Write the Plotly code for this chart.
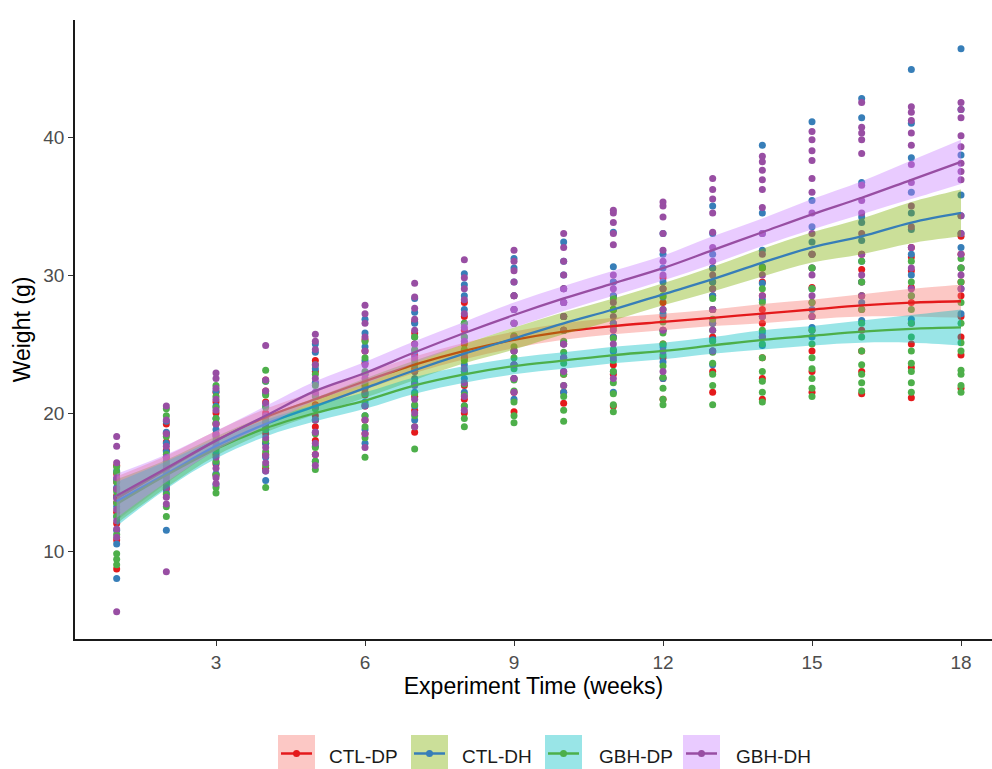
import plotly.graph_objects as go

# ---------------- data ----------------
weeks = list(range(1, 19))
groups = ["CTL-DP", "CTL-DH", "GBH-DP", "GBH-DH"]
point_colors = ["#E41A1C", "#377EB8", "#4DAF4A", "#984EA3"]
ribbon_colors = ["rgba(248,118,109,0.4)", "rgba(124,174,0,0.4)",
                 "rgba(0,191,196,0.4)", "rgba(199,124,255,0.4)"]
x_ticks = [3, 6, 9, 12, 15, 18]
y_ticks = [10, 20, 30, 40]

# individual weights (g), one list per week (weeks 1..18)
ctl_dp_weights = [
    [8.7, 10.8, 12.0, 12.8, 13.5, 14.0, 14.5, 15.0, 15.6, 16.2],
    [14.5, 15.0, 15.6, 16.2, 16.8, 17.3, 17.9, 18.5, 19.2],
    [15.5, 16.3, 17.0, 17.8, 18.5, 19.2, 20.0, 20.8, 21.5],
    [16.0, 17.0, 17.8, 18.5, 19.3, 20.0, 20.8, 21.6, 22.4],
    [17.0, 18.0, 19.0, 19.8, 20.6, 21.4, 22.2, 23.0, 23.8],
    [18.5, 19.5, 20.5, 21.3, 22.0, 22.8, 23.6, 24.5, 25.3],
    [18.6, 20.2, 21.2, 22.2, 23.2, 24.2, 25.0, 25.8, 26.6],
    [20.0, 21.0, 22.0, 23.0, 24.0, 25.0, 26.0, 27.0, 28.0],
    [20.1, 21.5, 22.5, 23.5, 24.5, 25.5, 26.5, 27.5, 28.5],
    [20.7, 21.5, 22.8, 24.0, 25.0, 26.0, 27.0, 28.0, 29.0],
    [20.5, 22.8, 23.5, 24.5, 25.5, 26.5, 27.5, 28.5, 29.5],
    [21.0, 22.5, 24.0, 25.0, 26.0, 27.0, 28.0, 29.0, 29.8],
    [21.5, 23.0, 24.5, 25.5, 26.5, 27.5, 28.5, 29.5, 30.5],
    [21.0, 22.5, 24.0, 25.5, 26.5, 27.5, 28.5, 29.5, 30.5],
    [21.5, 23.0, 24.5, 26.0, 27.0, 28.0, 29.1, 30.5, 31.5],
    [21.4, 23.0, 24.5, 26.0, 27.5, 28.5, 29.5, 30.4, 31.5],
    [21.1, 23.3, 25.0, 26.5, 28.0, 29.1, 30.3, 31.3, 32.0],
    [21.8, 24.2, 25.5, 27.0, 28.5, 29.5, 30.5, 31.5, 32.8],
]
ctl_dh_weights = [
    [8.0, 10.5, 11.5, 12.5, 13.2, 13.9, 14.6, 15.2, 15.8],
    [11.5, 14.2, 15.0, 15.8, 16.5, 17.2, 17.8, 18.6, 19.4],
    [14.8, 15.6, 16.4, 17.2, 18.0, 18.8, 19.6, 20.5, 21.6],
    [15.1, 15.8, 16.8, 17.8, 18.8, 19.7, 20.5, 21.4, 22.3],
    [16.5, 17.6, 18.6, 19.5, 20.4, 21.3, 22.2, 23.2, 24.4, 25.0],
    [17.8, 18.8, 19.8, 20.8, 21.8, 22.8, 23.8, 24.8, 25.8, 26.8],
    [19.5, 20.5, 21.5, 22.5, 23.5, 24.5, 25.5, 26.5, 27.3, 28.3],
    [20.5, 21.5, 22.5, 23.5, 24.5, 25.5, 26.5, 27.5, 28.5, 29.3, 30.1],
    [21.0, 22.5, 23.5, 24.5, 25.5, 26.5, 27.5, 28.5, 29.5, 30.5, 31.2],
    [21.5, 23.0, 24.0, 25.0, 26.0, 27.0, 28.0, 29.0, 30.0, 31.0, 32.4],
    [21.5, 23.0, 24.5, 25.5, 26.5, 27.5, 28.5, 29.5, 30.6, 33.1],
    [22.5, 23.7, 24.8, 26.0, 27.2, 28.4, 29.5, 30.5, 31.5, 33.0],
    [23.5, 24.5, 25.3, 26.5, 27.5, 28.5, 29.5, 30.5, 31.5, 33.0, 35.0],
    [24.9, 25.8, 27.0, 28.2, 29.4, 30.6, 31.8, 33.0, 34.5, 39.4],
    [25.5, 26.2, 27.5, 29.0, 30.5, 31.5, 32.4, 33.5, 35.4, 41.1],
    [26.7, 28.0, 29.5, 31.0, 32.5, 33.8, 34.2, 36.7, 41.4, 42.8],
    [26.8, 28.5, 30.0, 31.5, 33.3, 34.5, 36.0, 38.5, 41.0, 44.9],
    [27.2, 29.0, 30.5, 32.0, 33.0, 34.3, 35.8, 38.7, 42.0, 46.4],
]
gbh_dp_weights = [
    [9.0, 9.4, 9.8, 11.2, 12.5, 13.5, 14.3, 15.0, 15.7, 16.1],
    [12.5, 13.2, 14.1, 14.8, 15.5, 16.3, 17.0, 18.3, 19.8, 20.3],
    [14.2, 14.6, 15.5, 16.5, 17.4, 18.3, 19.3, 19.6, 20.4, 21.2, 22.0],
    [14.6, 16.2, 17.2, 18.0, 18.8, 19.5, 20.4, 21.3, 22.3, 23.1],
    [15.9, 16.5, 17.5, 18.5, 19.5, 20.3, 21.2, 22.0, 22.8, 23.5],
    [16.8, 18.2, 19.0, 19.8, 20.6, 21.4, 22.2, 23.0, 24.0, 25.2],
    [17.4, 19.0, 19.8, 20.6, 21.4, 22.2, 23.0, 23.8, 24.6, 25.5],
    [19.0, 19.6, 20.5, 21.3, 22.1, 23.0, 23.8, 24.6, 25.5, 26.5],
    [19.3, 19.8, 20.8, 21.6, 22.4, 23.2, 24.0, 24.8, 25.6, 26.5],
    [19.4, 20.2, 21.2, 22.0, 22.8, 23.6, 24.4, 25.2, 26.0, 27.0],
    [20.1, 20.6, 21.4, 22.2, 23.0, 23.8, 24.6, 25.4, 26.2, 27.5, 28.3],
    [20.6, 21.0, 21.8, 22.6, 23.4, 24.2, 25.0, 25.8, 26.6, 27.5, 28.5],
    [20.6, 22.0, 22.8, 23.6, 24.4, 25.2, 26.0, 26.8, 27.5, 28.3, 29.0],
    [20.8, 21.5, 22.3, 23.0, 24.0, 25.0, 26.0, 27.0, 28.0, 29.0, 30.5],
    [21.2, 21.8, 22.5, 23.2, 24.0, 25.0, 26.0, 27.0, 28.0, 29.0, 30.5],
    [21.6, 22.2, 22.8, 23.5, 24.5, 25.5, 26.5, 27.5, 28.5, 29.5, 31.0],
    [21.5, 22.2, 23.0, 23.6, 24.5, 25.5, 26.5, 27.5, 28.5, 29.5, 31.0],
    [21.5, 22.0, 22.8, 23.1, 24.5, 25.1, 26.5, 28.0, 29.5, 30.5, 31.2],
]
gbh_dh_weights = [
    [5.6, 11.0, 11.6, 12.2, 13.0, 13.8, 14.5, 15.3, 16.4, 17.6, 18.3],
    [8.5, 13.4, 13.9, 14.6, 15.3, 16.0, 16.8, 17.6, 18.5, 19.5, 20.5],
    [14.9, 15.3, 16.0, 16.8, 17.6, 18.4, 19.2, 20.2, 21.0, 21.8, 22.5, 22.9],
    [15.8, 16.4, 16.9, 17.5, 18.2, 19.0, 19.8, 20.7, 21.6, 22.4, 24.9],
    [16.2, 17.0, 17.8, 18.6, 19.5, 20.5, 21.5, 22.5, 23.5, 24.6, 25.2, 25.7],
    [17.5, 18.5, 19.5, 20.5, 21.5, 22.5, 23.5, 24.5, 25.5, 26.5, 27.2, 27.8],
    [19.0, 20.0, 21.0, 22.0, 23.0, 24.0, 25.0, 26.0, 26.8, 27.6, 28.4, 29.4],
    [20.2, 21.2, 22.2, 23.2, 24.2, 25.2, 26.2, 27.2, 28.2, 29.0, 29.8, 31.1],
    [21.5, 22.5, 23.5, 24.5, 25.5, 26.5, 27.5, 28.5, 29.5, 30.3, 31.0, 31.8],
    [22.0, 23.0, 24.0, 25.0, 26.0, 27.0, 28.0, 29.0, 30.0, 31.0, 32.0, 33.0],
    [22.5, 24.0, 25.0, 26.0, 27.0, 28.0, 29.0, 30.0, 32.2, 33.0, 33.8, 34.5, 34.7],
    [23.0, 24.5, 26.0, 27.5, 29.0, 30.0, 31.0, 31.8, 33.0, 34.2, 35.0, 35.3],
    [24.5, 26.0, 27.5, 29.0, 30.0, 31.0, 32.0, 33.1, 34.5, 35.5, 36.2, 37.0],
    [25.5, 27.0, 28.5, 30.0, 31.5, 33.0, 34.9, 36.2, 36.9, 37.6, 38.2, 38.6],
    [27.0, 28.5, 30.0, 31.5, 33.0, 34.5, 36.0, 37.0, 38.3, 39.0, 39.8, 40.4],
    [28.5, 30.0, 31.5, 33.0, 34.5, 35.4, 36.5, 38.8, 39.8, 40.3, 40.7, 42.5],
    [29.0, 30.5, 32.0, 33.5, 35.0, 36.7, 38.0, 39.4, 40.3, 41.2, 41.8, 42.2],
    [29.0, 30.0, 31.5, 33.0, 34.3, 36.9, 37.5, 38.1, 39.3, 40.1, 41.4, 42.0, 42.5],
]

# smoothed fits and confidence half-widths at each week
ctl_dp_fit = [13.8, 15.9, 18.0, 19.7, 21.0, 22.3, 23.5, 24.5, 25.3, 25.9, 26.3, 26.6, 26.9, 27.2, 27.5, 27.8, 28.0, 28.1]
ctl_dh_fit = [13.6, 15.6, 17.6, 19.2, 20.5, 21.8, 23.1, 24.3, 25.4, 26.5, 27.5, 28.6, 29.7, 30.9, 32.0, 32.8, 33.8, 34.5]
gbh_dp_fit = [13.4, 15.5, 17.4, 18.9, 20.0, 20.9, 22.0, 22.8, 23.4, 23.8, 24.2, 24.5, 24.9, 25.3, 25.6, 25.9, 26.1, 26.2]
gbh_dh_fit = [14.0, 16.0, 18.0, 19.8, 21.6, 22.9, 24.4, 25.8, 27.1, 28.3, 29.4, 30.5, 31.8, 33.1, 34.4, 35.6, 36.9, 38.2]

ctl_dp_band = [1.6, 1.0, 0.7, 0.6, 0.6, 0.6, 0.6, 0.6, 0.6, 0.6, 0.6, 0.6, 0.6, 0.7, 0.7, 0.8, 1.0, 1.2]
ctl_dh_band = [1.6, 1.0, 0.7, 0.6, 0.6, 0.7, 0.7, 0.7, 0.8, 0.8, 0.8, 0.8, 0.9, 1.0, 1.1, 1.3, 1.5, 1.7]
gbh_dp_band = [1.6, 1.0, 0.7, 0.6, 0.6, 0.6, 0.6, 0.6, 0.6, 0.6, 0.6, 0.6, 0.6, 0.7, 0.7, 0.8, 1.0, 1.3]
gbh_dh_band = [1.6, 1.0, 0.7, 0.7, 0.7, 0.8, 0.8, 0.8, 0.9, 0.9, 0.9, 0.9, 1.0, 1.0, 1.1, 1.2, 1.4, 1.6]

all_weights = [ctl_dp_weights, ctl_dh_weights, gbh_dp_weights, gbh_dh_weights]
all_fits = [ctl_dp_fit, ctl_dh_fit, gbh_dp_fit, gbh_dh_fit]
all_bands = [ctl_dp_band, ctl_dh_band, gbh_dp_band, gbh_dh_band]

# ---------------- figure ----------------
W, H = 992, 769
ML, MR, MT, MB = 75, 0, 20, 130
PW, PH = W - ML - MR, H - MT - MB

fig = go.Figure()

# points
for g, name in enumerate(groups):
    xs, ys = [], []
    for wk, vals in zip(weeks, all_weights[g]):
        xs += [wk] * len(vals)
        ys += vals
    fig.add_trace(go.Scatter(
        x=xs, y=ys, mode="markers", name=name, showlegend=False,
        marker=dict(size=7, color=point_colors[g], line=dict(width=0)),
        hoverinfo="skip"))

# smooth ribbons + lines
for g, name in enumerate(groups):
    fit, band = all_fits[g], all_bands[g]
    lower = [f - b for f, b in zip(fit, band)]
    upper = [f + b for f, b in zip(fit, band)]
    fig.add_trace(go.Scatter(x=weeks, y=lower, mode="lines", showlegend=False,
                             line=dict(width=0, shape="spline", color=ribbon_colors[g]),
                             hoverinfo="skip"))
    fig.add_trace(go.Scatter(x=weeks, y=upper, mode="lines", showlegend=False,
                             fill="tonexty", fillcolor=ribbon_colors[g],
                             line=dict(width=0, shape="spline", color=ribbon_colors[g]),
                             hoverinfo="skip"))
    fig.add_trace(go.Scatter(x=weeks, y=fit, mode="lines", name=name, showlegend=False,
                             line=dict(width=2.3, shape="spline", color=point_colors[g])))

# custom ggplot-style legend (keys: fill box + line + point)
def px2paper_x(px):
    return (px - ML) / PW

def px2paper_y(py):
    return (H - MB - py) / PH

key_left = [278, 411, 545, 683]
text_left = [327, 460, 597, 734]
key_size = 37
key_cy = 753.5
shapes = []
annotations = []
for g, name in enumerate(groups):
    x0, x1 = key_left[g], key_left[g] + key_size
    shapes.append(dict(type="rect", xref="paper", yref="paper",
                       x0=px2paper_x(x0), x1=px2paper_x(x1),
                       y0=px2paper_y(key_cy + key_size / 2), y1=px2paper_y(key_cy - key_size / 2),
                       fillcolor=ribbon_colors[g], line=dict(width=0), layer="above"))
    shapes.append(dict(type="line", xref="paper", yref="paper",
                       x0=px2paper_x(x0 + 3), x1=px2paper_x(x1 - 3),
                       y0=px2paper_y(key_cy), y1=px2paper_y(key_cy),
                       line=dict(color=point_colors[g], width=2.5), layer="above"))
    shapes.append(dict(type="circle", xref="paper", yref="paper",
                       x0=px2paper_x((x0 + x1) / 2 - 3.5), x1=px2paper_x((x0 + x1) / 2 + 3.5),
                       y0=px2paper_y(key_cy + 3.5), y1=px2paper_y(key_cy - 3.5),
                       fillcolor=point_colors[g], line=dict(width=0), layer="above"))
    annotations.append(dict(text=name, xref="paper", yref="paper",
                            x=px2paper_x(text_left[g]), y=px2paper_y(key_cy + 3),
                            xanchor="left", yanchor="middle", showarrow=False,
                            font=dict(size=19, color="#1A1A1A")))

fig.update_layout(
    width=W, height=H,
    margin=dict(l=ML, r=MR, t=MT, b=MB),
    paper_bgcolor="white", plot_bgcolor="white",
    font=dict(family="Liberation Sans, Arial, sans-serif"),
    showlegend=False,
    shapes=shapes,
    annotations=annotations,
    xaxis=dict(
        range=[0.161, 18.624], tickvals=x_ticks, ticktext=[str(t) for t in x_ticks],
        showgrid=False, zeroline=False, showline=True, linecolor="#1A1A1A", linewidth=1.5,
        ticks="outside", ticklen=5, tickwidth=1.3, tickcolor="#333333",
        tickfont=dict(size=19, color="#4D4D4D"),
        title=dict(text="Experiment Time (weeks)", font=dict(size=23, color="#000000"), standoff=6),
    ),
    yaxis=dict(
        range=[3.623, 48.48], tickvals=y_ticks, ticktext=[str(t) for t in y_ticks],
        showgrid=False, zeroline=False, showline=True, linecolor="#1A1A1A", linewidth=1.5,
        ticks="outside", ticklen=5, tickwidth=1.3, tickcolor="#333333",
        tickfont=dict(size=19, color="#4D4D4D"),
        title=dict(text="Weight (g)", font=dict(size=23, color="#000000"), standoff=6),
    ),
)

fig.write_html(
    "out.html",
    config={"displayModeBar": False},
    post_script="document.body.style.margin='0px';document.body.style.overflow='hidden';",
)
